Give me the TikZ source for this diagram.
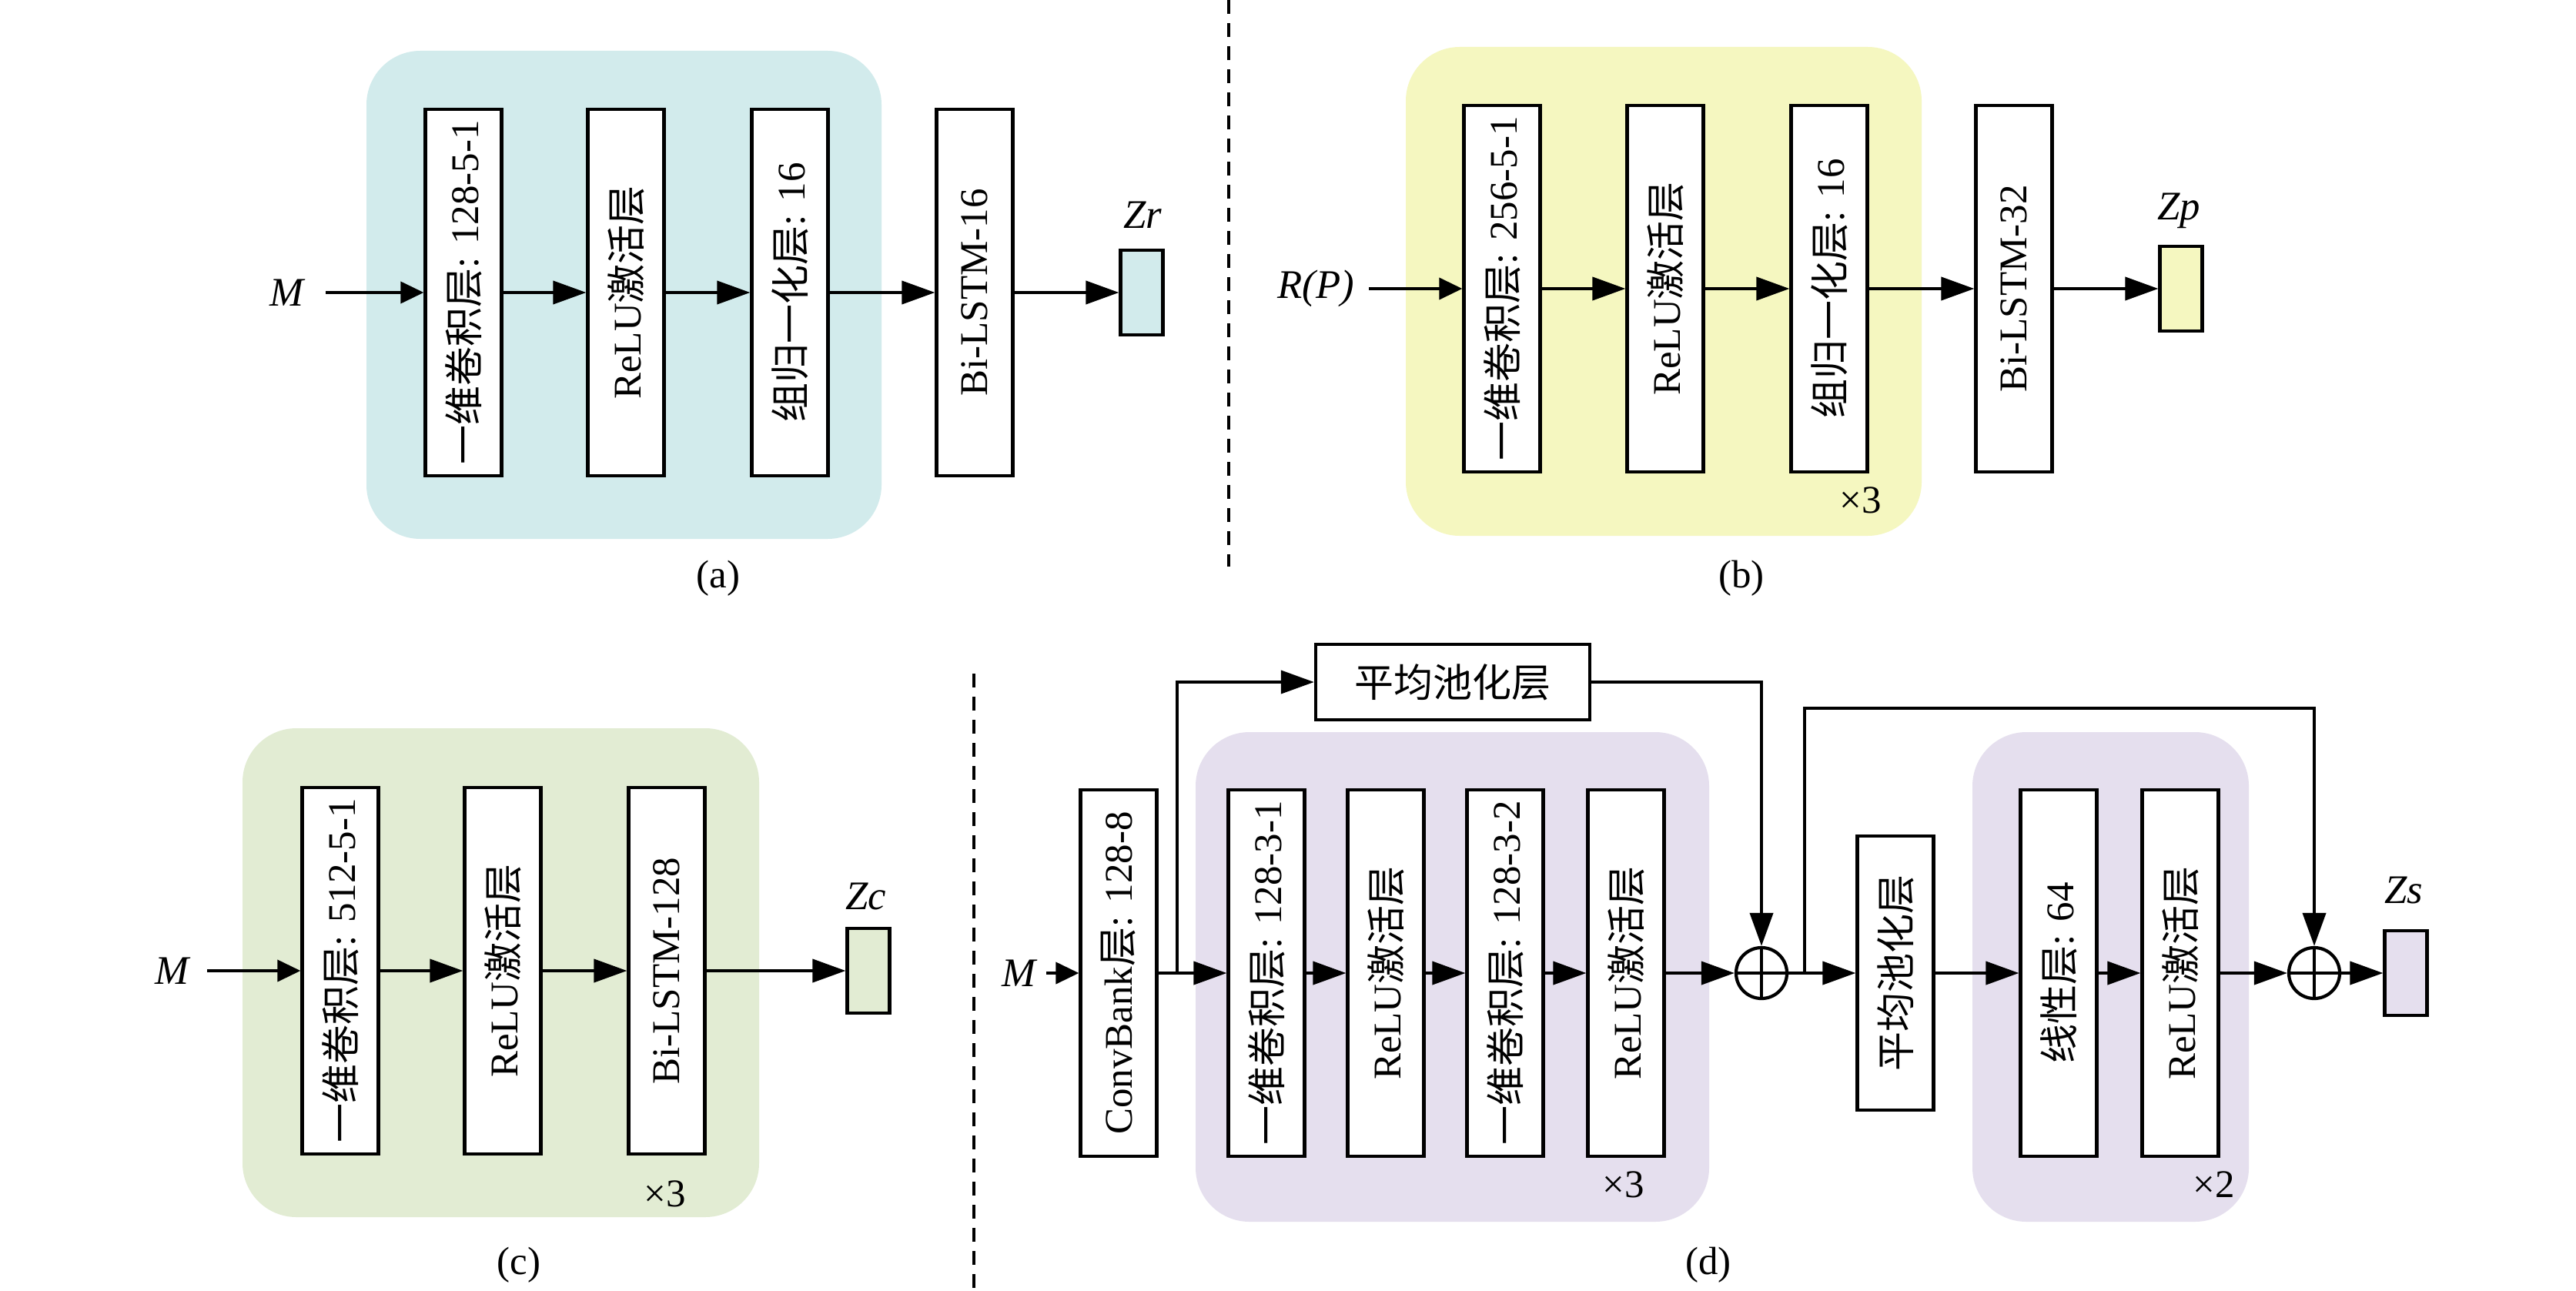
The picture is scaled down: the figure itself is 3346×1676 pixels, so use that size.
\documentclass[tikz,border=0pt]{standalone}
\usepackage{fontspec}
\usepackage{graphicx}
\setmainfont{Liberation Serif}
\newfontfamily\cjk{Noto Sans CJK SC}
\usetikzlibrary{arrows.meta}
\newcommand{\zh}[1]{{\cjk #1}}
\definecolor{colA}{HTML}{D2EBEC}
\definecolor{colB}{HTML}{F5F7C0}
\definecolor{colC}{HTML}{E2ECD3}
\definecolor{colD}{HTML}{E5DFEE}
\tikzset{
  layer/.style={draw, line width=1.2pt, fill=white, minimum width=0.99cm, minimum height=4.75cm, inner sep=0pt, font=\fontsize{14.5}{16}\selectfont},
  outbox/.style={draw, line width=1.2pt, minimum width=0.55cm, minimum height=1.1cm, inner sep=0pt},
  arr/.style={-{Triangle[length=0.43cm,width=0.3cm]}, line width=1.1pt},
  arrS/.style={-{Triangle[length=0.3cm,width=0.28cm]}, line width=1.1pt, shorten <=0.25cm},
  lbl/.style={font=\fontsize{15}{17}\selectfont\itshape, inner sep=1pt},
  captxt/.style={font=\fontsize{14.5}{16}\selectfont},
  divider/.style={dash pattern=on 0.18cm off 0.12cm, line width=1pt, black},
  bgbox/.style={rounded corners=0.7cm},
  plusnode/.style={circle, draw, line width=1.2pt, fill=white, minimum size=0.66cm, inner sep=0pt,
    path picture={\draw[line width=1.1pt] (path picture bounding box.north) -- (path picture bounding box.south) (path picture bounding box.west) -- (path picture bounding box.east);}}
}
\begin{document}
\begin{tikzpicture}[x=0.01cm,y=-0.01cm]
\useasboundingbox (0,0) rectangle (3346,1676);
\fill[white] (0,0) rectangle (3346,1676);

% dividers
\draw[divider] (1596,0) -- (1596,736);
\draw[divider] (1265,875) -- (1265,1676);

% ---------------- (a)
\fill[colA, bgbox] (476,66) rectangle (1145,700);
\node[layer] (a1) at (602,380) {\rotatebox{90}{\zh{一维卷积层}: 128-5-1}};
\node[layer] (a2) at (813,380) {\rotatebox{90}{ReLU\zh{激活层}}};
\node[layer] (a3) at (1026,380) {\rotatebox{90}{\zh{组归一化层}: 16}};
\node[layer] (a4) at (1266,380) {\rotatebox{90}{Bi-LSTM-16}};
\node[outbox, fill=colA] (ao) at (1483,380) {};
\node[lbl] (aM) at (372,380) {M};
\node[lbl] (aZ) at (1484,279) {Zr};
\node[captxt] (acap) at (933,751) {(a)};
\draw[arrS] (aM) -- (a1);
\draw[arr] (a1) -- (a2);
\draw[arr] (a2) -- (a3);
\draw[arr] (a3) -- (a4);
\draw[arr] (a4) -- (ao);

% ---------------- (b)
\fill[colB, bgbox] (1826,61) rectangle (2496,696);
\node[layer] (b1) at (1951,375) {\rotatebox{90}{\zh{一维卷积层}: 256-5-1}};
\node[layer] (b2) at (2163,375) {\rotatebox{90}{ReLU\zh{激活层}}};
\node[layer] (b3) at (2376,375) {\rotatebox{90}{\zh{组归一化层}: 16}};
\node[layer] (b4) at (2616,375) {\rotatebox{90}{Bi-LSTM-32}};
\node[outbox, fill=colB] (bo) at (2833,375) {};
\node[lbl] (bM) at (1709,375) {R(P)};
\node[lbl] (bZ) at (2830,274) {Zp};
\node[captxt] (bx) at (2417,650) {×3};
\node[captxt] (bcap) at (2262,751) {(b)};
\draw[arrS, shorten <=0.15cm] (bM) -- (b1);
\draw[arr] (b1) -- (b2);
\draw[arr] (b2) -- (b3);
\draw[arr] (b3) -- (b4);
\draw[arr] (b4) -- (bo);

% ---------------- (c)
\fill[colC, bgbox] (315,946) rectangle (986,1581);
\node[layer] (c1) at (442,1261) {\rotatebox{90}{\zh{一维卷积层}: 512-5-1}};
\node[layer] (c2) at (653,1261) {\rotatebox{90}{ReLU\zh{激活层}}};
\node[layer] (c3) at (866,1261) {\rotatebox{90}{Bi-LSTM-128}};
\node[outbox, fill=colC] (co) at (1128,1261) {};
\node[lbl] (cM) at (223,1261) {M};
\node[lbl] (cZ) at (1125,1164) {Zc};
\node[captxt] (cx) at (864,1551) {×3};
\node[captxt] (ccap) at (674,1643) {(c)};
\draw[arrS, shorten <=0.2cm] (cM) -- (c1);
\draw[arr] (c1) -- (c2);
\draw[arr] (c2) -- (c3);
\draw[arr] (c3) -- (co);

% ---------------- (d)
\fill[colD, bgbox] (1553,951) rectangle (2220,1587);
\fill[colD, bgbox] (2562,951) rectangle (2921,1587);
\node[layer] (dcb) at (1453,1264) {\rotatebox{90}{ConvBank\zh{层}: 128-8}};
\node[layer] (d1) at (1645,1264) {\rotatebox{90}{\zh{一维卷积层}: 128-3-1}};
\node[layer] (d2) at (1800,1264) {\rotatebox{90}{ReLU\zh{激活层}}};
\node[layer] (d3) at (1955,1264) {\rotatebox{90}{\zh{一维卷积层}: 128-3-2}};
\node[layer] (d4) at (2112,1264) {\rotatebox{90}{ReLU\zh{激活层}}};
\node[plusnode] (dp1) at (2288,1264) {};
\node[layer, minimum height=3.56cm] (dq) at (2462,1264) {\rotatebox{90}{\zh{平均池化层}}};
\node[layer] (d5) at (2674,1264) {\rotatebox{90}{\zh{线性层}: 64}};
\node[layer] (d6) at (2832,1264) {\rotatebox{90}{ReLU\zh{激活层}}};
\node[plusnode] (dp2) at (3006,1264) {};
\node[outbox, fill=colD] (do) at (3125,1264) {};
\node[draw, line width=1.2pt, fill=white, minimum width=3.56cm, minimum height=0.98cm, inner sep=0pt, font=\fontsize{14.5}{16}\selectfont] (dpool) at (1887,886) {\zh{平均池化层}};
\node[lbl] (dM) at (1323,1264) {M};
\node[lbl] (dZ) at (3122,1156) {Zs};
\node[captxt] (dx1) at (2109,1539) {×3};
\node[captxt] (dx2) at (2876,1539) {×2};
\node[captxt] (dcap) at (2219,1643) {(d)};
\coordinate (j1) at (1529,1264);
\coordinate (j2) at (2344,1264);
\coordinate (t2) at (3006,920);
\draw[-{Triangle[length=0.3cm,width=0.28cm]}, line width=1.1pt, shorten <=0.1cm] (dM) -- (dcb);
\draw[arr] (dcb) -- (d1);
\draw[arr] (d1) -- (d2);
\draw[arr] (d2) -- (d3);
\draw[arr] (d3) -- (d4);
\draw[arr] (d4) -- (dp1);
\draw[arr] (dp1) -- (dq);
\draw[arr] (dq) -- (d5);
\draw[arr] (d5) -- (d6);
\draw[arr] (d6) -- (dp2);
\draw[arr] (dp2) -- (do);
\draw[arr] (j1) |- (dpool);
\draw[arr] (dpool) -| (dp1);
\draw[arr] (j2) |- (t2) -- (dp2);
\end{tikzpicture}
\end{document}
